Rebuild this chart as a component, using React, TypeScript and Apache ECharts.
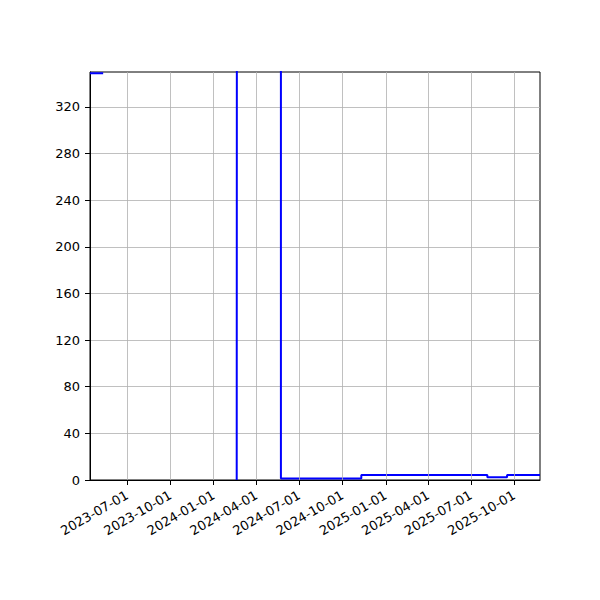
import { useEffect, useRef } from 'react'
import * as echarts from 'echarts'

// step points: [date, value], null breaks the line
const stepDates = [
  '2023-04-13', '2023-05-11', '2023-05-12',
  '2024-02-19', '2024-02-20', '2024-05-23',
  '2024-11-10', '2025-08-05', '2025-09-16', '2025-11-25',
]
const stepValues: (number | null)[] = [
  349, 349, null,
  0, 1200, 1.2,
  4.3, 2.3, 4.3, 4.3,
]

const xTicks = [
  '2023-07-01', '2023-10-01', '2024-01-01', '2024-04-01', '2024-07-01',
  '2024-10-01', '2025-01-01', '2025-04-01', '2025-07-01', '2025-10-01',
]
const yTicks = [0, 40, 80, 120, 160, 200, 240, 280, 320]

const xMin = '2023-04-13'
const xMax = '2025-11-25'
const yMax = 350

const toTs = (s: string) => Date.parse(s + 'T00:00:00Z')
const pad = (n: number) => (n < 10 ? '0' + n : '' + n)
const fmtDate = (v: number) => {
  const d = new Date(v)
  return `${d.getUTCFullYear()}-${pad(d.getUTCMonth() + 1)}-${pad(d.getUTCDate())}`
}

export default function App() {
  const chartRef = useRef<HTMLDivElement>(null)

  useEffect(() => {
    if (!chartRef.current) return
    const chart = echarts.init(chartRef.current, undefined, { renderer: 'svg' })

    const font = { fontFamily: 'DejaVu Sans', fontSize: 13, color: '#000' }
    const xTickTs = xTicks.map(toTs)

    chart.setOption({
      animation: false,
      grid: {
        left: 90,
        right: 60,
        top: 72,
        bottom: 120,
        show: true,
        borderColor: '#000',
        borderWidth: 1,
        backgroundColor: 'transparent',
      },
      xAxis: {
        type: 'value',
        min: toTs(xMin),
        max: toTs(xMax),
        axisLine: { show: true, onZero: false, lineStyle: { color: '#000', width: 1 } },
        axisTick: { show: true, length: 5, lineStyle: { color: '#000' }, customValues: xTickTs },
        axisLabel: {
          ...font,
          rotate: 30,
          margin: 14,
          customValues: xTickTs,
          formatter: (v: number) => fmtDate(v),
        },
        splitLine: { show: false },
      },
      yAxis: {
        type: 'value',
        min: 0,
        max: yMax,
        interval: 40,
        axisLine: { show: true, lineStyle: { color: '#000', width: 1 } },
        axisTick: { show: true, length: 5, lineStyle: { color: '#000' }, customValues: yTicks },
        axisLabel: { ...font, margin: 10, customValues: yTicks },
        splitLine: { show: true, lineStyle: { color: '#b0b0b0', width: 0.8 } },
      },
      series: [
        {
          // vertical grid lines at the quarter ticks
          type: 'line',
          data: [],
          z: 1,
          silent: true,
          markLine: {
            silent: true,
            symbol: ['none', 'none'],
            label: { show: false },
            lineStyle: { color: '#b0b0b0', width: 0.8, type: 'solid' },
            data: xTickTs.map(t => ({ xAxis: t })),
          },
        },
        {
          type: 'line',
          step: 'end',
          z: 3,
          showSymbol: false,
          connectNulls: false,
          lineStyle: { color: '#0000ff', width: 2 },
          itemStyle: { color: '#0000ff' },
          data: stepDates.map((d, i) => [toTs(d), stepValues[i]]),
        },
      ],
    })

    return () => {
      chart.dispose()
    }
  }, [])

  return (
    <div
      ref={chartRef}
      style={{ position: 'absolute', left: 0, top: 0, width: 600, height: 600, background: '#fff' }}
    />
  )
}
